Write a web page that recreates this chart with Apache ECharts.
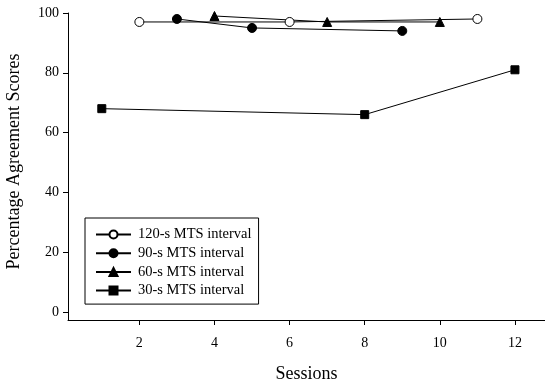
<!DOCTYPE html>
<html>
<head>
<meta charset="utf-8">
<script src="https://cdn.jsdelivr.net/npm/echarts@6/dist/echarts.min.js"></script>
<style>
  html, body { margin: 0; padding: 0; background: #fff; }
  #chart { width: 545px; height: 385px; }
</style>
</head>
<body>
<div id="chart"></div>
<script>
  // data
  var seriesNames = ['120-s MTS interval', '90-s MTS interval', '60-s MTS interval', '30-s MTS interval'];
  var s120 = [[2, 97], [6, 97], [11, 98]];
  var s90 = [[3, 98], [5, 95], [9, 94]];
  var s60 = [[4, 99], [7, 97], [10, 97]];
  var s30 = [[1, 68], [8, 66], [12, 81]];
  var xTicks = [2, 4, 6, 8, 10, 12];
  var yTicks = [0, 20, 40, 60, 80, 100];

  var font = 'Liberation Serif';
  var chart = echarts.init(document.getElementById('chart'));

  function line(name, data, symbol, fill, size) {
    return {
      name: name,
      type: 'line',
      data: data,
      symbol: symbol,
      symbolSize: size,
      showSymbol: true,
      lineStyle: { color: '#000', width: 1 },
      itemStyle: { color: fill, borderColor: '#000', borderWidth: 1 },
      emphasis: { disabled: true },
      animation: false
    };
  }

  chart.setOption({
    animation: false,
    grid: { left: 68, right: 0, top: 13, bottom: 65, outerBoundsMode: 'none' },
    legend: {
      orient: 'vertical',
      left: 85,
      top: 218,
      data: seriesNames,
      itemWidth: 35,
      itemHeight: 10,
      itemGap: 3.7,
      padding: [9, 7, 6, 10],
      borderColor: '#000',
      borderWidth: 1,
      textStyle: { fontFamily: font, fontSize: 14.5, color: '#000', padding: [0, 0, 0, 2] }
    },
    xAxis: {
      type: 'value',
      min: 0.1,
      max: 12.8,
      name: 'Sessions',
      nameLocation: 'middle',
      nameGap: 45,
      nameTextStyle: { fontFamily: font, fontSize: 18, color: '#000' },
      splitLine: { show: false },
      axisLine: { onZero: false, lineStyle: { color: '#000', width: 1 } },
      axisTick: { customValues: xTicks, length: 5, lineStyle: { color: '#000' } },
      axisLabel: { customValues: xTicks, fontFamily: font, fontSize: 14, color: '#000', margin: 16 }
    },
    yAxis: {
      type: 'value',
      min: -2.7,
      max: 100,
      name: 'Percentage Agreement Scores',
      nameLocation: 'middle',
      nameGap: 45,
      nameTextStyle: { fontFamily: font, fontSize: 18, color: '#000', padding: [0, 0, 0, 10] },
      splitLine: { show: false },
      axisLine: { show: true, onZero: false, lineStyle: { color: '#000', width: 1 } },
      axisTick: { show: true, customValues: yTicks, length: 5, lineStyle: { color: '#000' } },
      axisLabel: { customValues: yTicks, fontFamily: font, fontSize: 14, color: '#000', margin: 9 }
    },
    series: [
      line(seriesNames[0], s120, 'circle', '#fff', 9),
      line(seriesNames[1], s90, 'circle', '#000', 9),
      line(seriesNames[2], s60, 'triangle', '#000', 9),
      line(seriesNames[3], s30, 'rect', '#000', 8)
    ]
  });
</script>
</body>
</html>
